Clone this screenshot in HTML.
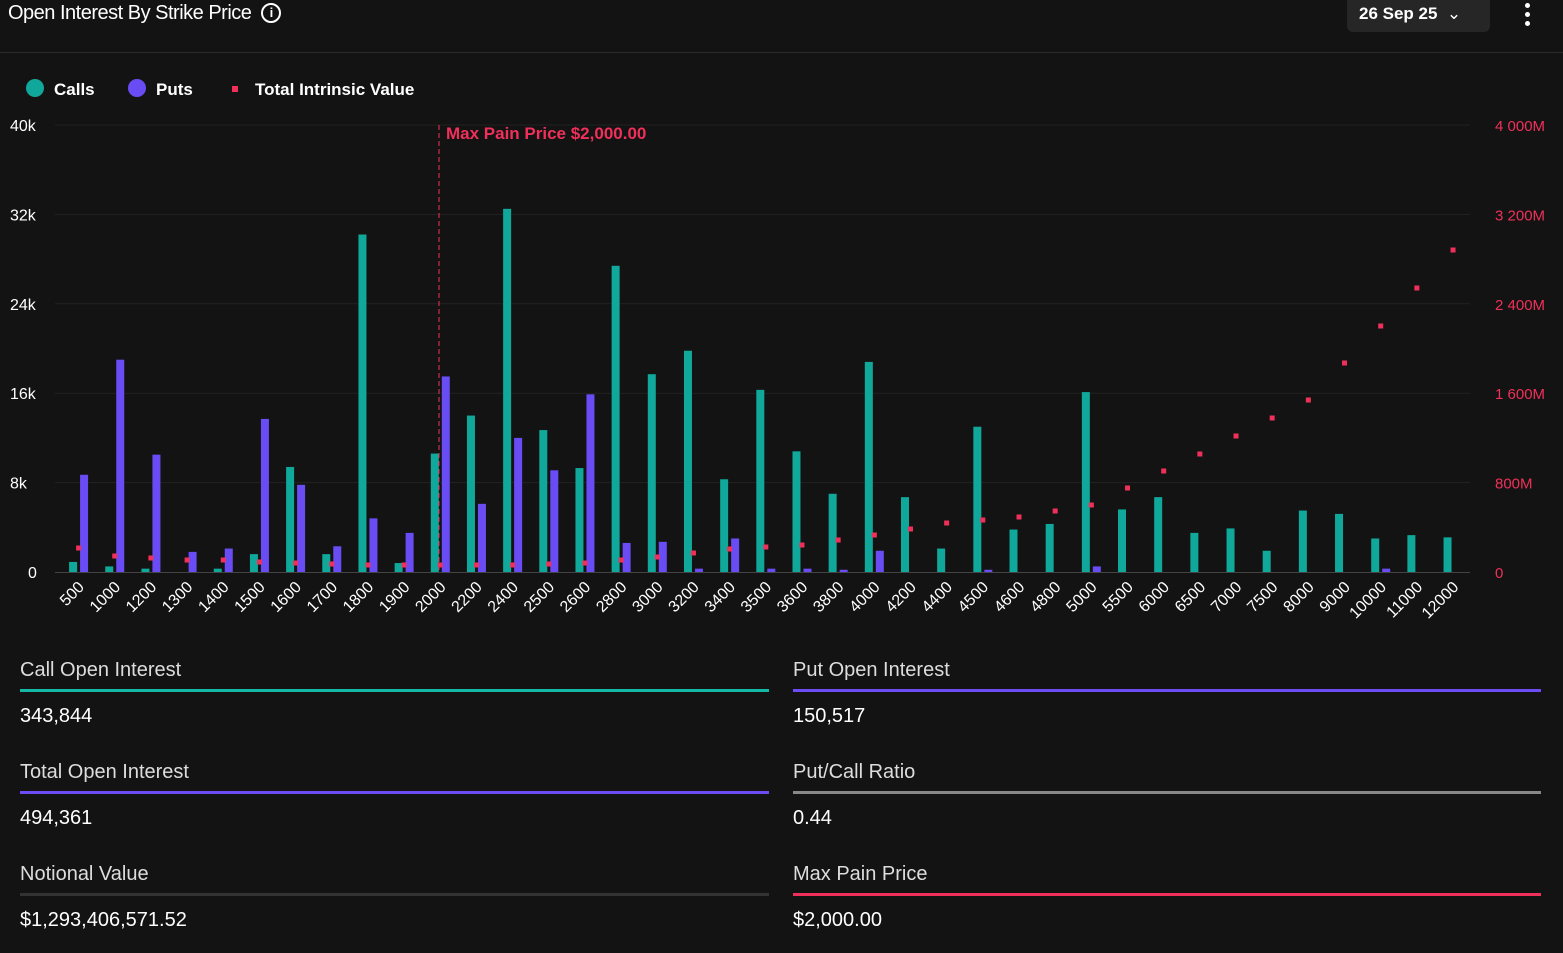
<!DOCTYPE html>
<html><head><meta charset="utf-8"><style>
body{margin:0;background:#131313;width:1563px;height:953px;overflow:hidden;font-family:"Liberation Sans",sans-serif;color:#fff;position:relative}
.hdr{position:absolute;left:0;top:0;width:1563px;height:52px;border-bottom:1px solid #2a2a2a}
.title{position:absolute;left:8px;top:2px;font-size:20px;letter-spacing:-0.5px}
.info{display:inline-block;width:16px;height:16px;border:2px solid #fff;border-radius:50%;font-size:13px;text-align:center;line-height:16px;margin-left:10px;vertical-align:2px;font-weight:bold;letter-spacing:0}
.sel{position:absolute;left:1347px;top:0;width:143px;height:32px;background:#262626;border-radius:0 0 6px 6px;font-weight:bold;font-size:17px;line-height:28px;padding-left:12px;box-sizing:border-box}
.dots{position:absolute;left:1525px;top:3px}
.dots i{display:block;width:5px;height:5px;background:#fff;border-radius:50%;margin-bottom:4px}
.stat{position:absolute;font-size:20px}
.lbl{color:#ddd}
.bar{position:absolute;height:3px}
</style></head><body>
<div class="hdr"><div class="title">Open Interest By Strike Price<span class="info">i</span></div>
<div class="sel">26 Sep 25 &nbsp;<span style="font-weight:normal">⌄</span></div>
<div class="dots"><i></i><i></i><i></i></div></div>
<svg id="c" width="1563" height="640" style="position:absolute;left:0;top:0" font-family="Liberation Sans, sans-serif"></svg>
<div class="stat lbl" style="left:20px;top:659px">Call Open Interest</div>
<div class="bar" style="left:20px;top:689px;width:749px;background:#14b8a6"></div>
<div class="stat" style="left:20px;top:705px">343,844</div>
<div class="stat lbl" style="left:793px;top:659px">Put Open Interest</div>
<div class="bar" style="left:793px;top:689px;width:748px;background:#6d4cf6"></div>
<div class="stat" style="left:793px;top:705px">150,517</div>
<div class="stat lbl" style="left:20px;top:761px">Total Open Interest</div>
<div class="bar" style="left:20px;top:791px;width:749px;background:#6d4cf6"></div>
<div class="stat" style="left:20px;top:807px">494,361</div>
<div class="stat lbl" style="left:793px;top:761px">Put/Call Ratio</div>
<div class="bar" style="left:793px;top:791px;width:748px;background:#888"></div>
<div class="stat" style="left:793px;top:807px">0.44</div>
<div class="stat lbl" style="left:20px;top:863px">Notional Value</div>
<div class="bar" style="left:20px;top:893px;width:749px;background:#333"></div>
<div class="stat" style="left:20px;top:909px">$1,293,406,571.52</div>
<div class="stat lbl" style="left:793px;top:863px">Max Pain Price</div>
<div class="bar" style="left:793px;top:893px;width:748px;background:#f0305a"></div>
<div class="stat" style="left:793px;top:909px">$2,000.00</div>
<script>
var L=["500","1000","1200","1300","1400","1500","1600","1700","1800","1900","2000","2200","2400","2500","2600","2800","3000","3200","3400","3500","3600","3800","4000","4200","4400","4500","4600","4800","5000","5500","6000","6500","7000","7500","8000","9000","10000","11000","12000"];
var C=[0.9,0.5,0.3,0,0.3,1.6,9.4,1.6,30.2,0.8,10.6,14,32.5,12.7,9.3,27.4,17.7,19.8,8.3,16.3,10.8,7,18.8,6.7,2.1,13,3.8,4.3,16.1,5.6,6.7,3.5,3.9,1.9,5.5,5.2,3,3.3,3.1];
var P=[8.7,19,10.5,1.8,2.1,13.7,7.8,2.3,4.8,3.5,17.5,6.1,12,9.1,15.9,2.6,2.7,0.3,3,0.3,0.3,0.2,1.9,0,0,0.2,0,0,0.5,0,0,0,0,0,0,0,0.3,0,0];
var D=[548,556,558,560,560,562,563,564,565,565,565,565,565,564,563,560,557,553,549,547,545,540,535,529,523,520,517,511,505,488,471,454,436,418,400,363,326,288,250];
var s='',Y0=572,k=447/40,W=36.17;
var lt=["0","8k","16k","24k","32k","40k"],rt=["0","800M","1 600M","2 400M","3 200M","4 000M"];
for(var i=0;i<6;i++){var y=Y0-i*8*k;
 if(i>0)s+='<line x1="55" x2="1470" y1="'+y+'" y2="'+y+'" stroke="#222"/>';
 s+='<text x="'+(i==0?28:10)+'" y="'+(y+6)+'" fill="#fff" font-size="16">'+lt[i]+'</text>';
 s+='<text x="1495" y="'+(y+6)+'" fill="#f0305a" font-size="15">'+rt[i]+'</text>';}
s+='<line x1="55" x2="1470" y1="572.5" y2="572.5" stroke="#444"/>';
for(var i=0;i<L.length;i++){var c=55+W*(i+.5);
 if(C[i]>0)s+='<rect x="'+(c-4)+'" y="'+(Y0-C[i]*k)+'" width="8" height="'+(C[i]*k)+'" fill="#0fa89a"/>';
 if(P[i]>0)s+='<rect x="'+(c+7)+'" y="'+(Y0-P[i]*k)+'" width="8" height="'+(P[i]*k)+'" fill="#6a4cf5"/>';
 s+='<rect x="'+(c+3)+'" y="'+(D[i]-2.5)+'" width="5" height="5" fill="#f0305a"/>';
 s+='<text transform="translate('+(c+12)+',588) rotate(-45)" text-anchor="end" fill="#fff" font-size="16">'+L[i]+'</text>';}
s+='<line x1="439" x2="439" y1="125" y2="572" stroke="#f0305a" stroke-dasharray="5,3"/>';
s+='<text x="446" y="139" fill="#f0305a" font-size="17" font-weight="bold">Max Pain Price $2,000.00</text>';
s+='<circle cx="35" cy="88" r="9" fill="#0fa89a"/><text x="54" y="95" fill="#fff" font-size="17" font-weight="bold">Calls</text>';
s+='<circle cx="137" cy="88" r="9" fill="#6a4cf5"/><text x="156" y="95" fill="#fff" font-size="17" font-weight="bold">Puts</text>';
s+='<rect x="232" y="86" width="6" height="6" fill="#f0305a"/><text x="255" y="95" fill="#fff" font-size="17" font-weight="bold">Total Intrinsic Value</text>';
document.getElementById('c').innerHTML=s;
</script>
</body></html>
